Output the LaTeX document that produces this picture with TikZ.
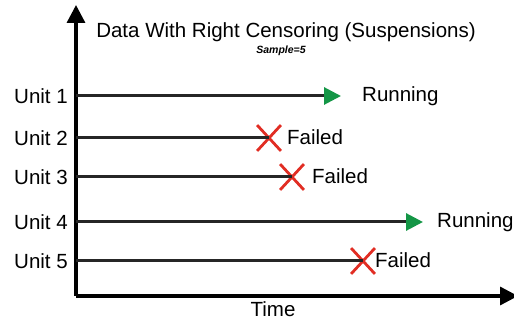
\documentclass[tikz,border=0pt]{standalone}
\usepackage{fontspec}
\setmainfont{Liberation Sans}
\usepackage{xcolor}
\usetikzlibrary{arrows.meta,shapes.misc}

\definecolor{runGreen}{RGB}{20,150,70}
\definecolor{failRed}{RGB}{225,45,35}

\begin{document}
\begin{tikzpicture}[
  x=1pt, y=-1pt,
  lbl/.style={font=\fontsize{20.5}{23}\selectfont, inner sep=0pt},
  unitline/.style={line width=3pt, black!85},
  axis/.style={line width=3.4pt, -{Triangle[length=18pt,width=18pt]}},
  running/.style={unitline, -{Triangle[length=17pt,width=17pt,color=runGreen,fill=runGreen]}},
  failmark/.style={cross out, draw=failRed, line width=2.8pt, minimum width=21pt, minimum height=23pt, inner sep=0pt}
]
  \useasboundingbox (0,0) rectangle (514,320);

  % axes
  \coordinate (origin) at (76,296);
  \coordinate (ytop) at (76,5);
  \coordinate (xend) at (518,296);
  \draw[axis] (origin) -- (ytop);
  \draw[axis] (origin) -- (xend);

  \node[font=\fontsize{20.5}{23}\selectfont, anchor=base] (title) at (286,38) {Data With Right Censoring (Suspensions)};
  \node[font=\fontsize{10.5}{12}\selectfont\bfseries\itshape, anchor=base] (sample) at (281,54) {Sample=5};
  \node[lbl] (time) at (273,309) {Time};

  % units
  \node[lbl, anchor=east] (u1) at (68,96) {Unit 1};
  \node[lbl, anchor=east] (u2) at (68,138) {Unit 2};
  \node[lbl, anchor=east] (u3) at (68,177) {Unit 3};
  \node[lbl, anchor=east] (u4) at (68,222) {Unit 4};
  \node[lbl, anchor=east] (u5) at (68,261) {Unit 5};

  \coordinate (a1) at (76,96);
  \coordinate (a2) at (76,138);
  \coordinate (a3) at (76,177);
  \coordinate (a4) at (76,222);
  \coordinate (a5) at (76,261);

  % end points
  \coordinate (e1) at (341,96);
  \node[failmark] (x2) at (269,138) {};
  \node[failmark] (x3) at (292,177) {};
  \coordinate (e4) at (423,222);
  \node[failmark] (x5) at (363,261) {};

  \node[lbl, anchor=west] (r1) at (362,96) {Running};
  \node[lbl, anchor=west] (f2) at (287,137) {Failed};
  \node[lbl, anchor=west] (f3) at (312,176) {Failed};
  \node[lbl, anchor=west] (r4) at (437,222) {Running};
  \node[lbl, anchor=west] (f5) at (375,260) {Failed};

  \draw[running] (a1) -- (e1);
  \draw[unitline] (a2) -- (x2.center);
  \draw[unitline] (a3) -- (x3.center);
  \draw[running] (a4) -- (e4);
  \draw[unitline] (a5) -- (x5.center);
\end{tikzpicture}
\end{document}
